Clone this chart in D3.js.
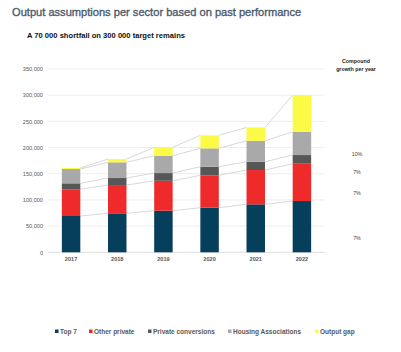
<!DOCTYPE html>
<html><head><meta charset="utf-8">
<script src="https://cdn.jsdelivr.net/npm/d3@7"></script>
<style>body{margin:0;background:#fff;} svg{display:block;font-family:"Liberation Sans",Arial,sans-serif;}</style>
</head><body>
<svg id="c" width="401" height="352"></svg>
<script>
const years = ["2017","2018","2019","2020","2021","2022"];
const seriesNames = ["Top 7","Other private","Private conversions","Housing Associations","Output gap"];
const top7 = [69300, 74400, 79400, 85100, 91600, 97900];
const otherPrivate = [51000, 54000, 57200, 61900, 65500, 71200];
const privateConversions = [11400, 13400, 14700, 16400, 15800, 16600];
const housingAssociations = [27300, 30000, 33100, 35100, 40100, 44300];
const outputGap = [2000, 6200, 16000, 24800, 25500, 70000];
const yTicks = [0, 50000, 100000, 150000, 200000, 250000, 300000, 350000];
const growthLabels = ["10%", "7%", "7%", "7%"];
const colors = ["#063f5b", "#ee2b2a", "#575757", "#a9a9a9", "#fbfb45"];

const svg = d3.select("#c");
const data = years.map((y,i)=>({year:y, "Top 7":top7[i], "Other private":otherPrivate[i], "Private conversions":privateConversions[i], "Housing Associations":housingAssociations[i], "Output gap":outputGap[i]}));
const stack = d3.stack().keys(seriesNames)(data);

const x = d3.scaleBand().domain(years).range([48,325]).paddingInner(0.6).paddingOuter(0.3);
const y = d3.scaleLinear().domain([0,350000]).range([252.3,69]);

// title
svg.append("text").attr("x",12).attr("y",15.5).attr("font-size",11.1).attr("fill","#4d5b6e")
  .attr("stroke","#4d5b6e").attr("stroke-width",0.35)
  .text("Output assumptions per sector based on past performance");
svg.append("text").attr("x",27).attr("y",38).attr("font-size",7.6).attr("font-weight","bold").attr("fill","#111").text("A 70 000 shortfall on 300 000 target remains");

// gridlines
svg.append("g").selectAll("line").data(yTicks).join("line")
  .attr("x1",48).attr("x2",325).attr("y1",d=>y(d)).attr("y2",d=>y(d))
  .attr("stroke",d=>d===0?"#d6d6d6":"#e8e8e8").attr("stroke-width",0.8);

// y axis labels
const yAxis = d3.axisLeft(y).tickValues(yTicks).tickSize(0).tickPadding(0)
  .tickFormat(d=>d===0?"0":d3.format(",")(d));
const ga = svg.append("g").attr("transform","translate(43,0)").call(yAxis);
ga.select(".domain").remove();
ga.selectAll("text").attr("font-size",5.6).attr("fill","#595959").attr("font-family","'Liberation Sans',Arial,sans-serif");

// x axis labels
const xAxis = d3.axisBottom(x).tickSize(0).tickPadding(0);
const gx = svg.append("g").attr("transform","translate(0,257)").call(xAxis);
gx.select(".domain").remove();
gx.selectAll("text").attr("font-size",5.6).attr("font-weight","bold").attr("fill","#595959").attr("font-family","'Liberation Sans',Arial,sans-serif");

// series lines
const lg = svg.append("g");
stack.forEach(s=>{
  for(let i=0;i<years.length-1;i++){
    lg.append("line")
      .attr("x1",x(years[i])+x.bandwidth()).attr("y1",y(s[i][1]))
      .attr("x2",x(years[i+1])).attr("y2",y(s[i+1][1]))
      .attr("stroke","#d4d4d4").attr("stroke-width",0.9);
  }
});

// bars
svg.append("g").selectAll("g").data(stack).join("g").attr("fill",(d,i)=>colors[i])
  .selectAll("rect").data(d=>d).join("rect")
  .attr("x",d=>x(d.data.year)).attr("width",x.bandwidth())
  .attr("y",d=>y(d[1])).attr("height",d=>y(d[0])-y(d[1]));

// right annotations
const ann = svg.append("g").attr("font-family","'Liberation Sans',Arial,sans-serif").attr("text-anchor","middle");
ann.append("text").attr("x",356).attr("y",63).attr("font-size",5.3).attr("font-weight","bold").attr("fill","#222").text("Compound");
ann.append("text").attr("x",356).attr("y",71).attr("font-size",5.3).attr("font-weight","bold").attr("fill","#222").text("growth per year");
const annPos = [156, 174, 195, 240];
growthLabels.forEach((t,i)=>{
  ann.append("text").attr("x",357).attr("y",annPos[i]).attr("font-size",5.3).attr("fill","#444").text(t);
});

// legend
const legX = [55, 89, 148, 228, 315];
const lgd = svg.append("g").attr("font-family","'Liberation Sans',Arial,sans-serif");
seriesNames.forEach((n,i)=>{
  lgd.append("rect").attr("x",legX[i]).attr("y",329.5).attr("width",3.5).attr("height",3.5).attr("fill",colors[i]);
  lgd.append("text").attr("x",legX[i]+5).attr("y",334).attr("font-size",6.5).attr("font-weight","bold").attr("fill","#595959").text(n);
});
</script>
</body></html>
